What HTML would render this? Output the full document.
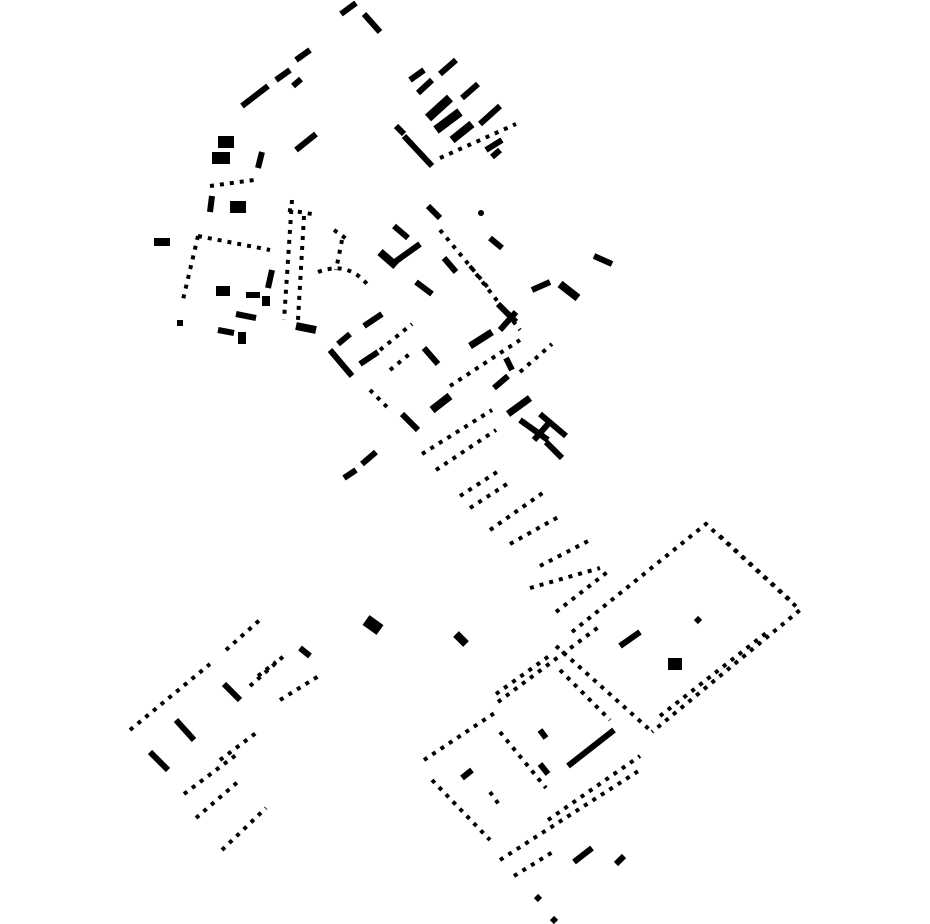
<!DOCTYPE html>
<html><head><meta charset="utf-8"><style>html,body{margin:0;padding:0;background:#fff}svg{display:block}</style></head>
<body>
<svg width="930" height="924" viewBox="0 0 930 924" xmlns="http://www.w3.org/2000/svg">
<g stroke="#000" stroke-width="6" fill="none" stroke-linecap="butt">
<line x1="341" y1="14" x2="356" y2="3"/><line x1="364" y1="14" x2="380" y2="32"/>
<line x1="242" y1="106" x2="268" y2="86"/><line x1="276" y1="80" x2="290" y2="70"/><line x1="296" y1="60" x2="310" y2="50"/><line x1="293" y1="86" x2="301" y2="79"/>
<line x1="296" y1="150" x2="316" y2="134"/>
<line x1="410" y1="80" x2="424" y2="70"/><line x1="440" y1="74" x2="456" y2="60"/><line x1="418" y1="93" x2="432" y2="80"/><line x1="462" y1="98" x2="478" y2="84"/>
<line x1="428" y1="118" x2="450" y2="98" stroke-width="9"/><line x1="436" y1="130" x2="460" y2="112" stroke-width="9"/><line x1="452" y1="140" x2="472" y2="124" stroke-width="8"/><line x1="480" y1="124" x2="500" y2="106"/>
<line x1="396" y1="126" x2="404" y2="134"/><line x1="404" y1="136" x2="432" y2="166"/><line x1="486" y1="150" x2="502" y2="140"/><line x1="492" y1="157" x2="500" y2="150"/>
<line x1="218" y1="142" x2="234" y2="142" stroke-width="12"/><line x1="212" y1="158" x2="230" y2="158" stroke-width="12"/><line x1="262" y1="152" x2="258" y2="168"/>
<line x1="230" y1="207" x2="246" y2="207" stroke-width="12"/><line x1="212" y1="196" x2="210" y2="212"/><line x1="154" y1="242" x2="170" y2="242" stroke-width="8"/><line x1="180" y1="320" x2="180" y2="326"/>
<line x1="216" y1="291" x2="230" y2="291" stroke-width="10"/><line x1="246" y1="295" x2="260" y2="295"/><line x1="236" y1="314" x2="256" y2="318"/><line x1="266" y1="296" x2="266" y2="306" stroke-width="8"/><line x1="272" y1="270" x2="268" y2="288"/><line x1="218" y1="330" x2="234" y2="333"/><line x1="242" y1="332" x2="242" y2="344" stroke-width="8"/>
<line x1="296" y1="326" x2="316" y2="330" stroke-width="8"/>
<line x1="428" y1="206" x2="440" y2="218"/><line x1="490" y1="238" x2="502" y2="248"/><line x1="380" y1="252" x2="396" y2="266" stroke-width="8"/><line x1="392" y1="264" x2="420" y2="244"/><line x1="394" y1="226" x2="408" y2="238"/>
<line x1="416" y1="282" x2="432" y2="294"/><line x1="444" y1="258" x2="456" y2="272"/><line x1="532" y1="290" x2="550" y2="282"/><line x1="560" y1="284" x2="578" y2="298" stroke-width="8"/><line x1="594" y1="256" x2="612" y2="264"/>
<line x1="364" y1="326" x2="382" y2="314"/><line x1="330" y1="350" x2="352" y2="376"/><line x1="338" y1="344" x2="350" y2="334"/><line x1="360" y1="364" x2="378" y2="352"/>
<line x1="424" y1="348" x2="438" y2="364"/><line x1="470" y1="346" x2="492" y2="332" stroke-width="7"/><line x1="498" y1="304" x2="516" y2="322"/><line x1="500" y1="330" x2="516" y2="312"/><line x1="506" y1="358" x2="512" y2="370"/><line x1="494" y1="388" x2="508" y2="376"/>
<line x1="508" y1="414" x2="530" y2="398" stroke-width="7"/><line x1="432" y1="410" x2="450" y2="396" stroke-width="8"/><line x1="402" y1="414" x2="418" y2="430"/><line x1="344" y1="478" x2="356" y2="470"/><line x1="362" y1="464" x2="376" y2="452"/>
<line x1="520" y1="420" x2="548" y2="440"/><line x1="540" y1="414" x2="566" y2="436"/><line x1="546" y1="442" x2="562" y2="458"/><line x1="534" y1="440" x2="548" y2="424"/>
<line x1="620" y1="646" x2="640" y2="632"/><line x1="696" y1="618" x2="700" y2="622"/>
<line x1="568" y1="766" x2="614" y2="730"/><line x1="540" y1="730" x2="546" y2="738"/><line x1="540" y1="764" x2="548" y2="774"/><line x1="462" y1="778" x2="472" y2="770"/>
<line x1="574" y1="862" x2="592" y2="848"/><line x1="616" y1="864" x2="624" y2="856"/><line x1="536" y1="896" x2="540" y2="900"/><line x1="552" y1="918" x2="556" y2="922"/>
<line x1="366" y1="620" x2="380" y2="630" stroke-width="12"/><line x1="456" y1="634" x2="466" y2="644" stroke-width="8"/><line x1="668" y1="664" x2="682" y2="664" stroke-width="12"/>
<line x1="300" y1="648" x2="310" y2="656"/><line x1="224" y1="684" x2="240" y2="700"/><line x1="150" y1="752" x2="168" y2="770"/><line x1="176" y1="720" x2="194" y2="740"/>
<circle cx="481" cy="213" r="3" fill="#000" stroke="none"/>
</g>
<g stroke="#000" stroke-width="4" fill="none" stroke-dasharray="4 6">
<line x1="440" y1="158" x2="516" y2="124"/>
<line x1="210" y1="186" x2="254" y2="180"/>
<line x1="198" y1="236" x2="270" y2="250"/><line x1="198" y1="236" x2="182" y2="304"/>
<line x1="292" y1="200" x2="284" y2="320"/><line x1="288" y1="210" x2="312" y2="214"/><line x1="304" y1="216" x2="298" y2="320"/>
<path d="M318 272 Q350 260 370 288"/><line x1="334" y1="230" x2="348" y2="240"/><line x1="342" y1="240" x2="336" y2="270"/>
<line x1="380" y1="350" x2="412" y2="324"/><line x1="390" y1="370" x2="412" y2="352"/>
<line x1="422" y1="454" x2="492" y2="410"/><line x1="436" y1="470" x2="496" y2="430"/><line x1="450" y1="386" x2="520" y2="340"/><line x1="520" y1="372" x2="552" y2="344"/>
<line x1="370" y1="390" x2="390" y2="410"/><line x1="440" y1="230" x2="490" y2="290"/><line x1="470" y1="266" x2="520" y2="330"/>
<line x1="460" y1="496" x2="500" y2="470"/><line x1="470" y1="508" x2="510" y2="482"/><line x1="490" y1="530" x2="544" y2="492"/><line x1="510" y1="544" x2="560" y2="516"/><line x1="530" y1="588" x2="600" y2="568"/><line x1="540" y1="566" x2="590" y2="540"/><line x1="556" y1="612" x2="610" y2="570"/>
<polyline points="572,632 706,524 800,610 652,732"/><line x1="720" y1="536" x2="790" y2="600"/><line x1="660" y1="716" x2="770" y2="630"/>
<line x1="556" y1="646" x2="650" y2="730"/>
<line x1="424" y1="760" x2="496" y2="712"/><line x1="496" y1="694" x2="552" y2="654"/><line x1="498" y1="702" x2="600" y2="626"/>
<line x1="432" y1="780" x2="490" y2="840"/><line x1="500" y1="732" x2="546" y2="788"/><line x1="500" y1="860" x2="640" y2="770"/><line x1="514" y1="876" x2="556" y2="850"/><line x1="548" y1="820" x2="640" y2="756"/>
<line x1="560" y1="670" x2="610" y2="720"/><line x1="490" y1="792" x2="500" y2="806"/>
<line x1="130" y1="730" x2="210" y2="664"/><line x1="226" y1="650" x2="262" y2="618"/><line x1="250" y1="686" x2="286" y2="654"/><line x1="258" y1="676" x2="276" y2="662"/><line x1="280" y1="700" x2="322" y2="674"/>
<line x1="184" y1="794" x2="240" y2="752"/><line x1="196" y1="818" x2="240" y2="780"/><line x1="222" y1="850" x2="266" y2="808"/><line x1="220" y1="760" x2="260" y2="730"/>
</g>
</svg>
</body></html>
